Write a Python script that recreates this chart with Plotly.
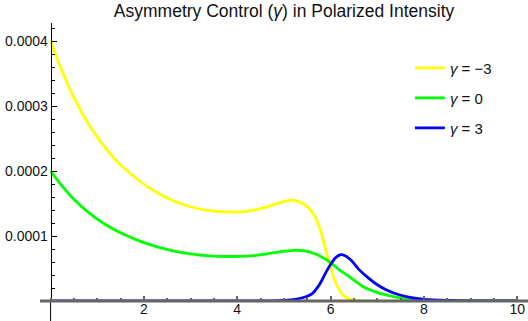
import numpy as np
import plotly.graph_objects as go

# values (units of 1e-4)
x_neg3 = [0, 0.2, 0.5, 0.85, 1.2, 1.55, 1.9, 2.25, 2.6, 3.0, 3.4, 3.8, 4.2, 4.6, 4.9,
          5.2, 5.45, 5.65, 5.8, 5.95, 6.1, 6.25, 6.4, 6.55, 6.8, 8.0, 10]
y_neg3 = [4.00, 3.62, 3.13, 2.68, 2.33, 2.06, 1.85, 1.68, 1.55, 1.45, 1.39, 1.37, 1.38, 1.44, 1.51,
          1.55, 1.48, 1.32, 1.05, 0.64, 0.30, 0.10, 0.03, 0.005, 0, 0, 0]

x_zero = [0, 0.2, 0.5, 0.85, 1.2, 1.55, 1.9, 2.25, 2.6, 3.0, 3.4, 3.8, 4.2, 4.6, 4.9,
          5.2, 5.45, 5.65, 5.85, 6.0, 6.2, 6.35, 6.5, 6.7, 6.9, 7.1, 7.4, 7.7, 8.0, 8.5, 9.0, 10]
y_zero = [2.00, 1.81, 1.565, 1.34, 1.165, 1.03, 0.925, 0.84, 0.775, 0.725, 0.695, 0.685, 0.69, 0.72, 0.755,
          0.78, 0.77, 0.73, 0.66, 0.59, 0.47, 0.40, 0.32, 0.22, 0.155, 0.11, 0.06, 0.03, 0.014, 0.004, 0.001, 0]

x_pos3 = [0, 4.5, 4.9, 5.2, 5.4, 5.6, 5.75, 5.9, 6.0, 6.1, 6.2, 6.3, 6.45, 6.6, 6.8, 7.0, 7.2,
          7.45, 7.7, 8.0, 8.5, 9.0, 10]
y_pos3 = [0, 0, 0.005, 0.02, 0.05, 0.11, 0.24, 0.44, 0.56, 0.66, 0.71, 0.70, 0.62, 0.49, 0.36, 0.25, 0.17,
          0.10, 0.055, 0.025, 0.008, 0.002, 0]

y_ticks = [0.0001, 0.0002, 0.0003, 0.0004]
x_ticks = [2, 4, 6, 8, 10]

series = [
    ("<i>γ</i> = −3", x_neg3, y_neg3, "#FFFF00"),
    ("<i>γ</i> = 0", x_zero, y_zero, "#00FF00"),
    ("<i>γ</i> = 3", x_pos3, y_pos3, "#0000FF"),
]

fig = go.Figure()
for i, (name, xs, ys, col) in enumerate(series):
    fig.add_trace(go.Scatter(
        x=xs, y=np.array(ys) * 1e-4, mode="lines", name=name, legendgroup=str(i),
        line=dict(color=col, width=2.8, shape="spline", smoothing=0.8),
    ))

font = dict(family="Liberation Sans, Arial, sans-serif", size=14, color="#111111")

fig.update_layout(
    width=528, height=321,
    margin=dict(l=40, r=0, t=23, b=20, autoexpand=False),
    paper_bgcolor="white", plot_bgcolor="white",
    font=font,
    title=dict(text="Asymmetry Control (<i>γ</i>) in Polarized Intensity",
               x=0.538, xanchor="center", y=0.967, yanchor="middle",
               font=dict(size=17.5, color="#111111")),
    legend=dict(x=0.758, y=0.897, xanchor="left", yanchor="top", tracegroupgap=7.5,
                bgcolor="rgba(0,0,0,0)", font=dict(size=15)),
    xaxis=dict(range=[-0.227, 10.23], showgrid=False, zeroline=False, automargin=False,
               showline=False,
               ticks="inside", tickvals=x_ticks, ticklen=5, tickwidth=2, tickcolor="#666666",
               ticklabelstandoff=-2,
               minor=dict(ticks="inside", dtick=0.5, tick0=0, ticklen=3, tickwidth=2, tickcolor="#666666"),
               layer="above traces"),
    yaxis=dict(range=[0, 4.277e-4], anchor="free", position=10.6 / 488, automargin=False,
               showgrid=False, zeroline=False, showline=True, linecolor="black", linewidth=1,
               ticks="inside", tickvals=y_ticks, ticktext=[f"{v:.4f}" for v in y_ticks],
               ticklen=5, tickcolor="black",
               minor=dict(ticks="inside", dtick=0.00002, tick0=0, ticklen=3, tickcolor="black"),
               layer="above traces"),
    shapes=[
        # y axis carries on below the horizontal axis
        dict(type="line", xref="x", yref="paper", x0=0, x1=0, y0=-20 / 278, y1=0,
             line=dict(color="black", width=1)),
        # thick grey horizontal axis at y = 0, over the curves
        dict(type="line", xref="paper", yref="paper", x0=0, x1=1, y0=0, y1=0,
             line=dict(color="#666666", width=3), layer="above"),
    ],
)

# drop the browser's default body margin so the figure sits at the page corner
fig.write_html("out.html", config={"displayModeBar": False},
               post_script="document.body.style.margin='0';")
